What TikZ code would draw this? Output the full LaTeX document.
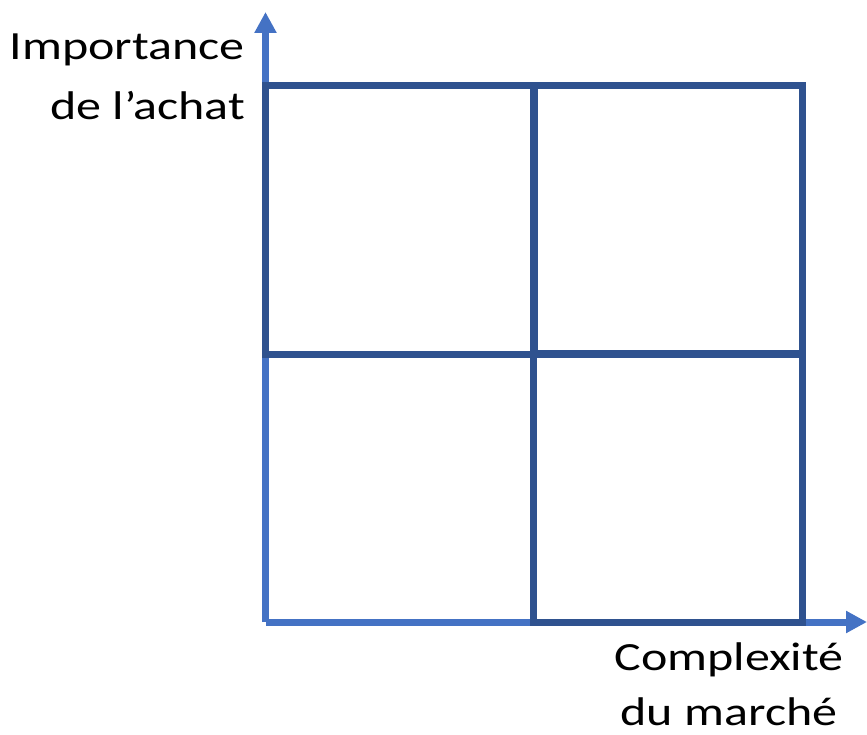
\documentclass[tikz,border=0pt]{standalone}
\usepackage{fontspec}
\setmainfont{Carlito}
\usetikzlibrary{arrows.meta}
\definecolor{axisBlue}{HTML}{4472C4}
\definecolor{gridBlue}{HTML}{2F528F}

\begin{document}
\begin{tikzpicture}
[x=1pt,y=-1pt,%
  axisArrow/.style={-{Triangle[width=21pt,length=21pt]},line width=7pt,color=axisBlue},%
  quadrant/.style={shape=rectangle,draw=gridBlue,line width=7pt,inner sep=0pt,outer sep=0pt,
    minimum width=268.5pt,minimum height=269pt},%
  axisLabel/.style={font=\fontsize{40}{60}\selectfont,inner sep=0pt,xscale=1.25,transform shape}]
\useasboundingbox (0,0) rectangle (867,735);
%% axes
\coordinate (origin) at (265.5,622);
\coordinate (ytip) at (265.5,12);
\coordinate (xtip) at (867,622);
\draw[axisArrow] (origin) -- (ytip);
\draw[axisArrow] (origin) -- (xtip);
%% quadrants (the lower left one is closed by the axes)
\foreach \nodename/\x/\y in {tl/399.75/220, tr/668/220, br/668/488.25}
{
  \node (\nodename) at (\x,\y) [quadrant] {};
}
%% labels (base is the last line)
\node (ylabel) at (245,120) [axisLabel,anchor=base east,align=right] {Importance\\de l'achat};
\node (xlabel) at (729,725) [axisLabel,anchor=base,align=center,
  font=\fontsize{40}{55}\selectfont] {Complexité\\du marché};
\end{tikzpicture}
\end{document}
